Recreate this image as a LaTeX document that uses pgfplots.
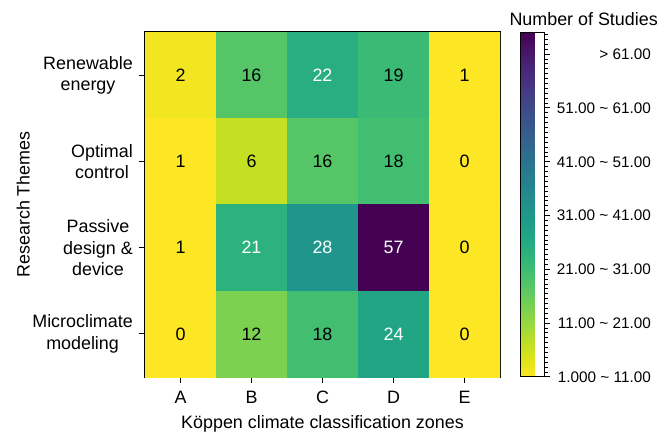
\documentclass[border=0pt]{standalone}
\usepackage{fontspec}
\setmainfont{Liberation Sans}
\usepackage{pgfplots}
\usepackage{pgfplotstable}
\pgfplotsset{compat=1.18}

\pgfplotstableread{
x y z
0 0 2
1 0 16
2 0 22
3 0 19
4 0 1
0 1 1
1 1 6
2 1 16
3 1 18
4 1 0
0 2 1
1 2 21
2 2 28
3 2 57
4 2 0
0 3 0
1 3 12
2 3 18
3 3 24
4 3 0
}\heat

\pgfplotsset{
 colormap={viridisr}{
  rgb255=(253,231,37) rgb255=(223,227,24) rgb255=(189,223,38) rgb255=(155,217,60)
  rgb255=(122,209,81) rgb255=(94,201,98) rgb255=(68,191,112) rgb255=(47,180,124)
  rgb255=(34,168,132) rgb255=(30,156,137) rgb255=(33,145,140) rgb255=(37,132,142)
  rgb255=(42,120,142) rgb255=(47,108,142) rgb255=(53,95,141) rgb255=(59,82,139)
  rgb255=(65,68,135) rgb255=(70,52,128) rgb255=(72,36,117) rgb255=(71,19,101)
  rgb255=(68,1,84)}
}
\newcommand{\cbf}{\fontsize{15.3}{18}\selectfont}

\begin{document}
\fontsize{17.9}{21.5}\selectfont
\begin{tikzpicture}
\begin{axis}[
 name=main,
 at={(145pt,-377pt)}, anchor=south west,
 scale only axis, width=355pt, height=345pt,
 xmin=-0.5, xmax=4.5, ymin=-0.5, ymax=3.5, y dir=reverse,
 xtick={0,1,2,3,4}, xticklabels={A,B,C,D,E},
 ytick={0,1,2,3},
 yticklabels={{Renewable\\energy},{Optimal\\control},{Passive\\design \&\\device},{Microclimate\\modeling}},
 tick align=outside, major tick length=6pt,
 tick style={black, line width=1.1pt},
 xtick pos=bottom, ytick pos=left,
 axis line style={black, line width=1.1pt},
 xticklabel style={inner sep=0pt, yshift=-7.6pt},
 yticklabel style={inner sep=0pt, align=center, xshift=-6pt},
 xlabel={Köppen climate classification zones},
 ylabel={Research Themes},
 xlabel style={at={(axis description cs:0.5,-0.135)}, anchor=center, inner sep=0pt},
 ylabel style={at={(axis description cs:-0.343,0.5)}, anchor=center, inner sep=0pt, rotate=0},
 colormap name=viridisr,
 point meta min=1, point meta max=57,
 colorbar,
 colorbar style={
  at={(parent axis.north east)}, anchor=north west, xshift=12pt,
  scale only axis, width=24pt,
  ytick={1,9.73,18.47,27.2,35.93,44.67,53.4},
  yticklabels={{1.000 \textasciitilde\ 11.00},{11.00 \textasciitilde\ 21.00},{21.00 \textasciitilde\ 31.00},{31.00 \textasciitilde\ 41.00},{41.00 \textasciitilde\ 51.00},{51.00 \textasciitilde\ 61.00},{> 61.00}},
  minor ytick={1,1.7939,...,57},
  ytick pos=right, yticklabel pos=right,
  tick align=outside,
  major tick length=5.5pt, minor tick length=3.5pt,
  tick style={black, line width=1pt},
  axis line style={black, line width=1pt},
  yticklabel style={font=\cbf, inner sep=0pt, anchor=east, xshift=101pt},
  title={Number of Studies},
  title style={at={(axis description cs:2.63,1.021)}, anchor=center, inner sep=0pt},
 },
]
\addplot[matrix plot*, mesh/cols=5, point meta=explicit] table[x=x, y=y, meta=z] {\heat};
\addplot[draw=none, mark=none, point meta=explicit symbolic, nodes near coords,
  every node near coord/.append style={anchor=center, text=black, inner sep=0pt}]
 coordinates {(0,0) [2] (1,0) [16] (3,0) [19] (4,0) [1]
  (0,1) [1] (1,1) [6] (2,1) [16] (3,1) [18] (4,1) [0]
  (0,2) [1] (4,2) [0]
  (0,3) [0] (1,3) [12] (2,3) [18] (4,3) [0]};
\addplot[draw=none, mark=none, point meta=explicit symbolic, nodes near coords,
  every node near coord/.append style={anchor=center, text=white, inner sep=0pt}]
 coordinates {(2,0) [22] (1,2) [21] (2,2) [28] (3,2) [57] (3,3) [24]};
\end{axis}
\pgfresetboundingbox
\path[use as bounding box] (0pt,0pt) rectangle (671pt,-435pt);
\end{tikzpicture}
\end{document}
